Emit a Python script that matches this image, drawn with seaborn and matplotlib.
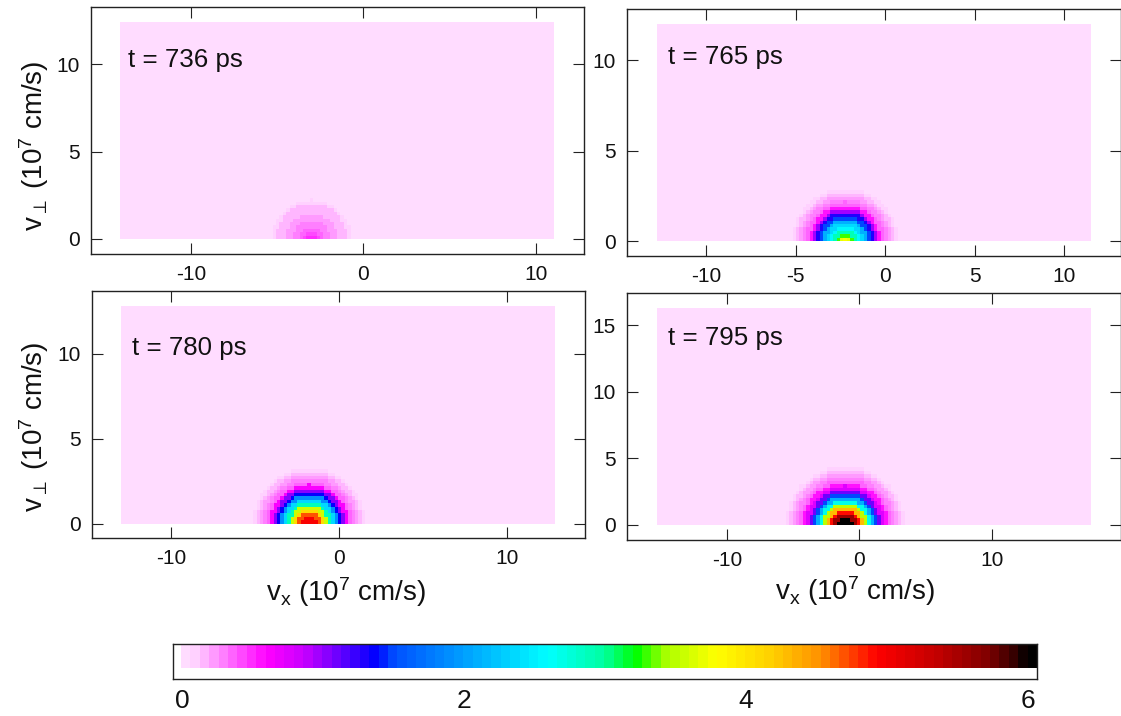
import numpy as np
import pandas as pd
import matplotlib
matplotlib.use("Agg")
import matplotlib.pyplot as plt
from matplotlib.colors import LinearSegmentedColormap
import seaborn as sns

W, H = 1121, 716
N_COLS, N_ROWS = 128, 64

# panel titles and tick labels
times = ["t = 736 ps", "t = 765 ps", "t = 780 ps", "t = 795 ps"]
x_ticks = [[-10, 0, 10], [-10, -5, 0, 5, 10], [-10, 0, 10], [-10, 0, 10]]
y_ticks = [[0, 5, 10], [0, 5, 10], [0, 5, 10], [0, 5, 10, 15]]
cbar_ticks = [0, 2, 4, 6]

# velocity range covered by each grid (10^7 cm/s)
vx_min = [-14.1, -12.74, -12.98, -15.28]
vx_max = [11.04, 11.5, 12.86, 17.47]
vperp_max = [12.4, 12.0, 12.8, 16.3]

# column holding the centre of the distribution
centre_col = [56, 55, 55, 55]

# log density read from the rings, one value per ring, from centre outwards
rings_736 = [.52, .5, .44, .36, .3, .27, .25, .22, .2, .17, .14, .12]
rings_765 = [3.8, 3.7, 3.3, 2.9, 2.6, 2.4, 2.1, 1.5, 1.3, 1.0, .6, .4, .3, .24, .18, .13]
rings_780 = [5.0, 5.0, 5.0, 4.7, 4.1, 3.6, 2.9, 2.4, 1.9, 1.4, 1.05, .62, .4, .3, .24, .18, .13]
rings_795 = [6.05, 6.05, 6.05, 5.6, 4.9, 4.3, 3.5, 2.7, 2.1, 1.5, 1.1, .8, .6, .38, .3, .24, .18, .12]
all_rings = [rings_736, rings_765, rings_780, rings_795]

# which ring each cell belongs to: row above v_perp=0, then column away from the centre
ring_map = [
    [0, 1, 2, 3, 4, 5, 6, 7, 8, 9, 10, 11, 12, 13, 14, 15, 16, 17],
    [2, 2, 3, 3, 4, 5, 6, 7, 8, 9, 10, 11, 12, 13, 14, 15, 16, 17],
    [3, 3, 3, 4, 5, 6, 6, 7, 8, 9, 10, 11, 12, 13, 14, 15, 16, 17],
    [4, 4, 4, 5, 5, 6, 7, 8, 9, 10, 11, 11, 12, 13, 14, 15, 16, 17],
    [5, 5, 5, 5, 6, 7, 7, 8, 9, 10, 11, 12, 13, 14, 15, 16, 17],
    [6, 6, 6, 6, 7, 7, 8, 9, 10, 11, 11, 12, 13, 14, 15, 16, 17],
    [7, 7, 7, 7, 8, 8, 9, 10, 10, 11, 12, 13, 14, 14, 15, 16, 17],
    [8, 8, 8, 8, 8, 9, 10, 10, 11, 12, 12, 13, 14, 15, 16, 17],
    [9, 9, 9, 9, 9, 10, 10, 11, 12, 12, 13, 14, 15, 16, 16, 17],
    [10, 10, 10, 10, 10, 11, 11, 12, 12, 13, 14, 15, 15, 16, 17],
    [11, 11, 11, 11, 11, 12, 12, 13, 13, 14, 15, 15, 16, 17],
    [11, 12, 12, 12, 12, 13, 13, 14, 14, 15, 15, 16, 17, 17],
    [13, 13, 13, 13, 13, 13, 14, 14, 15, 15, 16, 17],
    [14, 14, 14, 14, 14, 14, 15, 15, 16, 16, 17],
    [15, 15, 15, 15, 15, 15, 16, 16, 17, 17],
    [16, 16, 16, 16, 16, 16, 17, 17],
    [17, 17, 17, 17, 17, 17],
]

# colour scale stops (value, colour)
scale_max = 6.07
scale_levels = 91
stop_values = [0, .04, .1, .58, .85, 1.36, 1.5, 1.75, 2.0, 2.25, 2.6, 3.0, 3.23, 3.45, 3.8, 4.2, 4.55, 4.95, 5.4, 5.75, 5.95, 6.03, 6.07]
stop_colors = ["#FFDCFF", "#FFDCFF", "#FFC4FF", "#FF00FF", "#C800FF", "#0000FF", "#0050FF", "#0078FF",
               "#00A0FF", "#00C8FF", "#00FFFF", "#00FFA0", "#00FF00", "#ADFF00", "#FFFF00", "#FFD000",
               "#FF9000", "#FF0000", "#C00000", "#800000", "#300000", "#000000", "#000000"]

# layout in pixels: frame left, right, top, bottom; grid left, right, top, bottom
frames = [(90.5, 584, 6.5, 253.5), (627, 1120.5, 9, 256), (91.5, 585, 291, 538), (627, 1120.5, 293, 539.5)]
grids = [(120, 554, 22, 239), (657, 1091, 24, 241), (121, 555, 306, 523.5), (657, 1091, 308, 525)]
time_pos = [(128, 60), (668, 57), (132, 348), (668, 338)]


def px_axes(fig, left, right, top, bottom):
    return fig.add_axes([left / W, 1 - bottom / H, (right - left) / W, (bottom - top) / H])


def make_grid(rings, centre):
    grid = np.zeros((N_ROWS, N_COLS))
    for j, row in enumerate(ring_map):
        for i, ring in enumerate(row):
            if ring < len(rings):
                grid[j, centre + i] = rings[ring]
                grid[j, centre - i] = rings[ring]
    return grid


def style_axes(ax):
    for s in ax.spines.values():
        s.set_visible(True)
        s.set_linewidth(1.0)
        s.set_color("#222222")


def main():
    sns.set_theme(style="white")
    plt.rcParams["font.family"] = ["Liberation Sans", "DejaVu Sans"]
    plt.rcParams["mathtext.fontset"] = "custom"
    plt.rcParams["mathtext.rm"] = "Liberation Sans"
    plt.rcParams["mathtext.it"] = "Liberation Sans"
    plt.rcParams["mathtext.fallback"] = "stixsans"

    stops = [(v / scale_max, c) for v, c in zip(stop_values, stop_colors)]
    cmap = LinearSegmentedColormap.from_list("ring_scale", stops, N=scale_levels)

    fig = plt.figure(figsize=(W / 100, H / 100), dpi=100)

    for k in range(4):
        fl, fr, ft, fb = frames[k]
        gl, gr, gt, gb = grids[k]
        ax = px_axes(fig, fl, fr, ft, fb)
        df = pd.DataFrame(make_grid(all_rings[k], centre_col[k]))
        sns.heatmap(df, ax=ax, cmap=cmap, vmin=0, vmax=scale_max, cbar=False,
                    xticklabels=False, yticklabels=False)

        cw = (gr - gl) / N_COLS
        ch = (gb - gt) / N_ROWS
        ax.set_xlim(-(gl - fl) / cw, N_COLS + (fr - gr) / cw)
        ax.set_ylim(-(fb - gb) / ch, N_ROWS + (gt - ft) / ch)

        span = vx_max[k] - vx_min[k]
        ax.set_xticks([(v - vx_min[k]) / span * N_COLS for v in x_ticks[k]])
        ax.set_xticklabels([str(v) for v in x_ticks[k]], rotation=0)
        ax.set_yticks([v / vperp_max[k] * N_ROWS for v in y_ticks[k]])
        ax.set_yticklabels([str(v) for v in y_ticks[k]], rotation=0)
        ax.tick_params(axis="both", direction="in", length=8, width=0.8, color="#222222",
                       labelsize=15, pad=8, top=True, right=True, bottom=True, left=True,
                       labelcolor="#111111")
        style_axes(ax)

        fig.text(time_pos[k][0] / W, 1 - time_pos[k][1] / H, times[k], fontsize=18.6,
                 va="center", ha="left", color="#111111")

    fig.text(34 / W, 1 - 146 / H, r"$\mathrm{v_{\perp}}$ (10$^{7}$ cm/s)", fontsize=20,
             rotation=90, ha="center", va="center", color="#111111")
    fig.text(34 / W, 1 - 427 / H, r"$\mathrm{v_{\perp}}$ (10$^{7}$ cm/s)", fontsize=20,
             rotation=90, ha="center", va="center", color="#111111")
    fig.text(346 / W, 1 - 592 / H, r"$\mathrm{v_{x}}$ (10$^{7}$ cm/s)", fontsize=20,
             ha="center", va="center", color="#111111")
    fig.text(855 / W, 1 - 591 / H, r"$\mathrm{v_{x}}$ (10$^{7}$ cm/s)", fontsize=20,
             ha="center", va="center", color="#111111")

    # colour bar, drawn as a single row of cells
    cax = px_axes(fig, 173, 1037, 644, 679)
    levels = pd.DataFrame([(np.arange(scale_levels) + 0.5) / scale_levels * scale_max])
    sns.heatmap(levels, ax=cax, cmap=cmap, vmin=0, vmax=scale_max, cbar=False,
                xticklabels=False, yticklabels=False)
    cell_w = (1037 - 181) / scale_levels
    cax.set_xlim(-(181 - 173) / cell_w, scale_levels)
    cax.set_ylim(35 / 24, 0)
    cax.set_xticks([v / scale_max * scale_levels + 0.1 for v in cbar_ticks])
    cax.set_xticklabels([str(v) for v in cbar_ticks], rotation=0)
    cax.set_yticks([])
    cax.tick_params(axis="x", direction="in", length=5, width=0.8, color="#222222",
                    labelsize=19, pad=7, labelcolor="#111111")
    style_axes(cax)

    fig.savefig("out.png", dpi=100)


if __name__ == "__main__":
    main()
